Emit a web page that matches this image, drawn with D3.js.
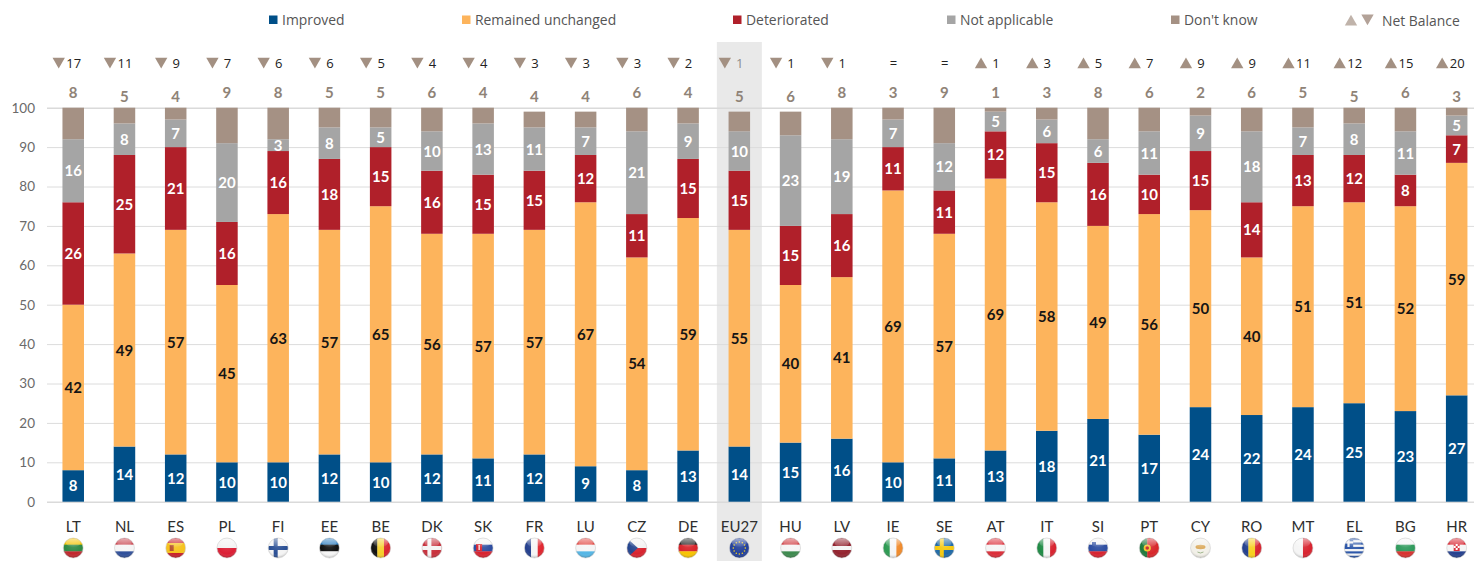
<!DOCTYPE html>
<html><head><meta charset="utf-8">
<script src="https://cdn.jsdelivr.net/npm/d3@7/dist/d3.min.js"></script>
<style>
html,body{margin:0;padding:0;background:#fff;overflow:hidden}
svg{display:block}
text{font-family:Lato,sans-serif}
</style></head><body>
<svg id="c" width="1474" height="561"></svg>
<script>
const categories=["LT","NL","ES","PL","FI","EE","BE","DK","SK","FR","LU","CZ","DE","EU27","HU","LV","IE","SE","AT","IT","SI","PT","CY","RO","MT","EL","BG","HR"];
const improved=[8,14,12,10,10,12,10,12,11,12,9,8,13,14,15,16,10,11,13,18,21,17,24,22,24,25,23,27];
const unchanged=[42,49,57,45,63,57,65,56,57,57,67,54,59,55,40,41,69,57,69,58,49,56,50,40,51,51,52,59];
const deteriorated=[26,25,21,16,16,18,15,16,15,15,12,11,15,15,15,16,11,11,12,15,16,10,15,14,13,12,8,7];
const notApplicable=[16,8,7,20,3,8,5,10,13,11,7,21,9,10,23,19,7,12,5,6,6,11,9,18,7,8,11,5];
const dontKnow=[8,5,4,9,8,5,5,6,4,4,4,6,4,5,6,8,3,9,1,3,8,6,2,6,5,5,6,3];
const netBalance=[-17,-11,-9,-7,-6,-6,-5,-4,-4,-3,-3,-3,-2,-1,-1,-1,0,0,1,3,5,7,9,9,11,12,15,20];
const yTicks=[0,10,20,30,40,50,60,70,80,90,100];
const seriesNames=["Improved","Remained unchanged","Deteriorated","Not applicable","Don't know"];
const seriesColors=["#004f88","#fdb45c","#b0202a","#a5a5a5","#a59184"];
const lowerDkLabels=new Set(["NL","ES","FR","LU","EU27","HU","EL","HR"]);

const svg=d3.select("#c");
const defs=svg.append("defs");
const x=d3.scaleBand().domain(categories).range([47.6,1482.3]).paddingInner(0.58).paddingOuter(0.29);
const y=d3.scaleLinear().domain([0,100]).range([501.7,107.7]).clamp(true);
const cx=c=>x(c)+x.bandwidth()/2;

// EU27 highlight
svg.append("rect").attr("x",cx("EU27")-22.5).attr("width",45).attr("y",42).attr("height",519).attr("fill","#e9e9e9");

// y axis + gridlines
const yAxis=svg.append("g").attr("transform","translate(47,0)")
  .call(d3.axisLeft(y).tickValues(yTicks).tickSize(-1440).tickPadding(12));
yAxis.select(".domain").remove();
yAxis.selectAll("line").attr("stroke","#dcdcdc").attr("stroke-width",1);
yAxis.selectAll("text").attr("fill","#6a6a6a").style("font-size","13.5px").style("font-family","Lato,sans-serif");
yAxis.selectAll(".tick").filter(d=>d===0||d===100).select("line").attr("stroke","#dadada").attr("stroke-width",1.5);

// stacks
const rows=categories.map((c,i)=>({c,improved:improved[i],unchanged:unchanged[i],deteriorated:deteriorated[i],notApplicable:notApplicable[i],dontKnow:dontKnow[i]}));
const keys=["improved","unchanged","deteriorated","notApplicable","dontKnow"];
const stacked=d3.stack().keys(keys)(rows);
const labelColor=["#fff","#151515","#fff","#fff"];
stacked.forEach((s,k)=>{
  const g=svg.append("g");
  g.selectAll("rect").data(s).join("rect")
    .attr("x",d=>x(d.data.c)).attr("width",x.bandwidth())
    .attr("y",d=>y(d[1])).attr("height",d=>y(d[0])-y(d[1]))
    .attr("fill",seriesColors[k]);
  if(k<4){
    g.selectAll("text").data(s).join("text")
      .attr("x",d=>cx(d.data.c)).attr("y",d=>y((d[0]+d[1])/2)+5.5)
      .attr("text-anchor","middle").attr("fill",labelColor[k])
      .style("font-size","15px").style("font-weight","700")
      .text(d=>d[1]-d[0]);
  }
});

// don't know values above the bars
svg.append("g").selectAll("text").data(rows).join("text")
  .attr("x",d=>cx(d.c)).attr("y",d=>lowerDkLabels.has(d.c)?102:98)
  .attr("text-anchor","middle").attr("fill","#8f8377")
  .style("font-size","15px").style("font-weight","700").text(d=>d.dontKnow);

// net balance row
const tri=d3.symbol().type(d3.symbolTriangle).size(66)();
const net=svg.append("g").selectAll("g").data(categories.map((c,i)=>({c,v:netBalance[i]}))).join("g")
  .attr("transform",d=>`translate(${cx(d.c)},63)`);
net.filter(d=>d.v!==0).append("path").attr("d",tri)
  .attr("transform",d=>d.v<0?"translate(-14.5,-1.6) rotate(180)":"translate(-14.5,1.6)").attr("fill","#a39082");
net.append("text").attr("x",0.5).attr("y",5)
  .attr("text-anchor","middle").attr("fill",d=>d.c==="EU27"?"#8d8d8d":"#222")
  .style("font-family","'Open Sans',sans-serif").style("font-size","13px")
  .text(d=>d.v===0?"=":Math.abs(d.v));

// category axis
const xAxis=svg.append("g").attr("transform","translate(0,513)").call(d3.axisBottom(x).tickSize(0).tickPadding(8));
xAxis.select(".domain").remove();
xAxis.selectAll("text").attr("fill","#2e2e2e").style("font-size","15px").style("font-family","Lato,sans-serif");

// legend
const legendX=[269,462,733,947,1171];
const lg=svg.append("g").selectAll("g").data(seriesNames).join("g")
  .attr("transform",(d,i)=>`translate(${legendX[i]},0)`);
lg.append("rect").attr("y",15.5).attr("width",8.5).attr("height",8.5).attr("fill",(d,i)=>seriesColors[i]);
lg.append("text").attr("x",13).attr("y",25).attr("fill","#555")
  .style("font-family","'Open Sans',sans-serif").style("font-size","13.9px").text(d=>d);
svg.append("path").attr("d",tri).attr("transform","translate(1351,22)").attr("fill","#c0b3aa");
svg.append("path").attr("d",tri).attr("transform","translate(1367.5,18) rotate(180)").attr("fill","#b3a298");
svg.append("text").attr("x",1382).attr("y",25.5).attr("fill","#555")
  .style("font-family","'Open Sans',sans-serif").style("font-size","13.9px").text("Net Balance");

// round flags
const R=10, flagY=548;
const gloss=defs.append("radialGradient").attr("id","gloss").attr("cx","50%").attr("cy","35%").attr("r","65%");
gloss.append("stop").attr("offset","0%").attr("stop-color","#fff").attr("stop-opacity",0.12);
gloss.append("stop").attr("offset","70%").attr("stop-color","#fff").attr("stop-opacity",0);
gloss.append("stop").attr("offset","100%").attr("stop-color","#000").attr("stop-opacity",0.28);
const shine=defs.append("linearGradient").attr("id","shine").attr("x1",0).attr("y1",0).attr("x2",0).attr("y2",1);
shine.append("stop").attr("offset","0%").attr("stop-color","#fff").attr("stop-opacity",0.55);
shine.append("stop").attr("offset","100%").attr("stop-color","#fff").attr("stop-opacity",0.03);
defs.append("clipPath").attr("id","disc").append("circle").attr("r",R);

const rect=(g,a,b,w,h,f)=>g.append("rect").attr("x",a).attr("y",b).attr("width",w).attr("height",h).attr("fill",f);
const hs=(g,cols,weights)=>{weights=weights||cols.map(()=>1);const t=d3.sum(weights);let p=-R;cols.forEach((c,i)=>{const h=2*R*weights[i]/t;rect(g,-R,p,2*R,h+.3,c);p+=h;});};
const vs=(g,cols,weights)=>{weights=weights||cols.map(()=>1);const t=d3.sum(weights);let p=-R;cols.forEach((c,i)=>{const w=2*R*weights[i]/t;rect(g,p,-R,w+.3,2*R,c);p+=w;});};
const nordic=(g,bg,cross)=>{rect(g,-R,-R,2*R,2*R,bg);rect(g,-4.5,-R,4,2*R,cross);rect(g,-R,-2,2*R,4,cross);};
const flagPainters={
  LT:g=>hs(g,["#f4c300","#2f8a45","#c1272d"]),
  NL:g=>hs(g,["#c8414b","#f5f5f5","#2f4f9a"]),
  ES:g=>{hs(g,["#c8202a","#f6c21c","#c8202a"],[1,2,1]);rect(g,-6,-3,4,6,"#b5502a");},
  PL:g=>hs(g,["#f3f3f3","#dc1f35"]),
  FI:g=>nordic(g,"#f4f4f4","#2a4f94"),
  EE:g=>hs(g,["#2f7fc1","#111","#f5f5f5"]),
  BE:g=>vs(g,["#111","#f5cf2b","#d9262f"]),
  DK:g=>nordic(g,"#c8303c","#f4f4f4"),
  SK:g=>{hs(g,["#f4f4f4","#2d4da0","#d8232f"]);rect(g,-7,-4,6,7,"#d8232f");rect(g,-4.6,-3,1.2,5,"#fff");},
  FR:g=>vs(g,["#24408e","#f5f5f5","#e0262f"]),
  LU:g=>hs(g,["#e2453f","#f5f5f5","#54b6e6"]),
  CZ:g=>{hs(g,["#f2f2f2","#d8232f"]);g.append("path").attr("d",`M${-R},${-R}L1,0L${-R},${R}Z`).attr("fill","#24458f");},
  DE:g=>hs(g,["#222","#d8232a","#f8c400"]),
  EU27:g=>{rect(g,-R,-R,2*R,2*R,"#22409a");d3.range(12).forEach(i=>{const a=i*Math.PI/6;g.append("circle").attr("cx",6*Math.cos(a)).attr("cy",6*Math.sin(a)).attr("r",.8).attr("fill","#f5d020");});},
  HU:g=>hs(g,["#cf3a3f","#f5f5f5","#3d8a4e"]),
  LV:g=>hs(g,["#93232f","#f5f5f5","#93232f"],[2,1,2]),
  IE:g=>vs(g,["#2c9a52","#f5f5f5","#f08b2c"]),
  SE:g=>nordic(g,"#1f6aa8","#f6c90e"),
  AT:g=>hs(g,["#dc2d38","#f5f5f5","#dc2d38"]),
  IT:g=>vs(g,["#1f8a45","#f5f5f5","#d8232f"]),
  SI:g=>{hs(g,["#f4f4f4","#2d4da0","#d8232f"]);rect(g,-6,-6,4,5,"#2d4da0");},
  PT:g=>{vs(g,["#1f7a3c","#d8262a"],[2,3]);g.append("circle").attr("cx",-2).attr("r",3.6).attr("fill","#f2c52c");g.append("circle").attr("cx",-2).attr("r",1.8).attr("fill","#c8202a");},
  CY:g=>{rect(g,-R,-R,2*R,2*R,"#f2f0e8");g.append("ellipse").attr("rx",5).attr("ry",2.2).attr("cy",-1).attr("fill","#dba95a");g.append("path").attr("d","M-3,4Q0,6 3,4").attr("stroke","#9db48a").attr("fill","none");},
  RO:g=>vs(g,["#24408e","#f7cf1d","#d8232f"]),
  MT:g=>vs(g,["#f5f5f5","#d8232f"]),
  EL:g=>{hs(g,["#2a55a8","#f5f5f5","#2a55a8","#f5f5f5","#2a55a8","#f5f5f5","#2a55a8","#f5f5f5","#2a55a8"]);rect(g,-R,-R,9,9,"#2a55a8");rect(g,-6.8,-R,2.2,9,"#f5f5f5");rect(g,-R,-6.7,9,2.2,"#f5f5f5");},
  BG:g=>hs(g,["#f5f5f5","#2f9a5c","#d8322f"]),
  HR:g=>{hs(g,["#d8232f","#f5f5f5","#24408e"]);rect(g,-3,-4,6,7,"#d8232f");rect(g,-1,-4,2,2,"#fff");rect(g,-3,-2,2,2,"#fff");rect(g,1,-2,2,2,"#fff");rect(g,-1,0,2,2,"#fff");}
};
categories.forEach(c=>{
  const f=svg.append("g").attr("transform",`translate(${cx(c)},${flagY})`);
  const inner=f.append("g").attr("clip-path","url(#disc)");
  flagPainters[c](inner);
  inner.append("circle").attr("r",R).attr("fill","url(#gloss)");
  inner.append("ellipse").attr("cy",-5.2).attr("rx",7.4).attr("ry",4.2).attr("fill","url(#shine)");
  f.append("circle").attr("r",R).attr("fill","none").attr("stroke","#cfcfcf").attr("stroke-width",.6);
});
</script>
</body></html>
